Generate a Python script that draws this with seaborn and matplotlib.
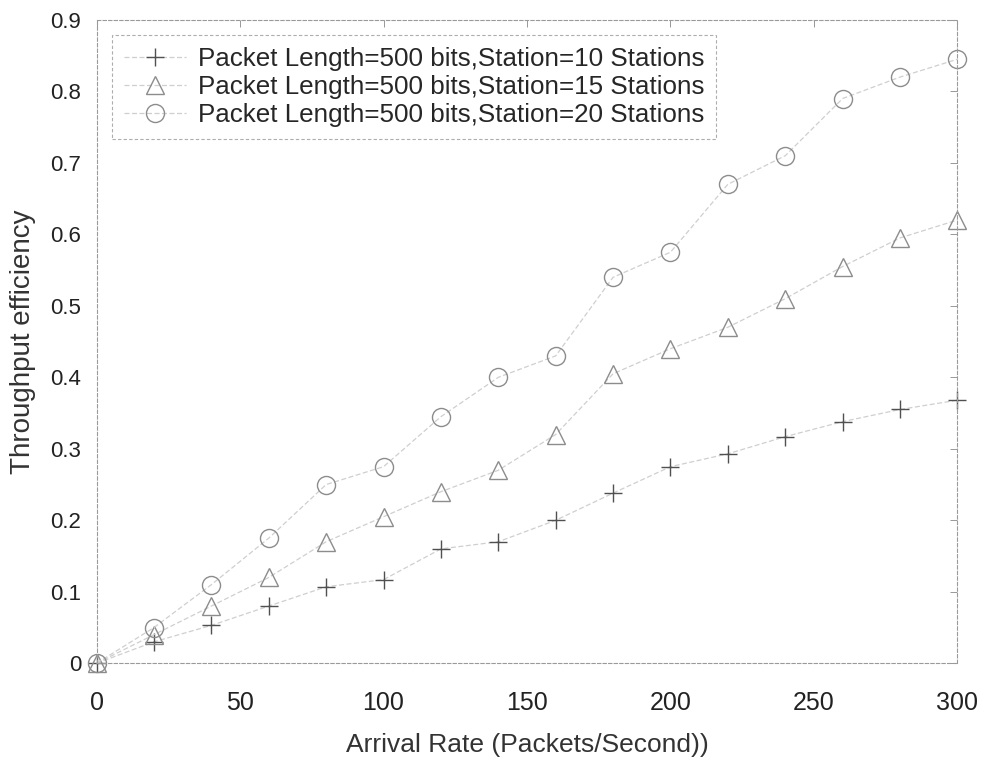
import numpy as np
import pandas as pd
import seaborn as sns
import matplotlib
matplotlib.use("Agg")
import matplotlib.pyplot as plt

# values
arrival = [0, 20, 40, 60, 80, 100, 120, 140, 160, 180, 200, 220, 240, 260, 280, 300]
st10 = [0.0, 0.030, 0.053, 0.080, 0.107, 0.117, 0.160, 0.170, 0.200, 0.238,
        0.275, 0.293, 0.317, 0.338, 0.355, 0.368]
st15 = [0.0, 0.040, 0.080, 0.120, 0.170, 0.205, 0.240, 0.270, 0.320, 0.405,
        0.440, 0.470, 0.510, 0.555, 0.595, 0.620]
st20 = [0.0, 0.050, 0.110, 0.175, 0.250, 0.275, 0.345, 0.400, 0.430, 0.540,
        0.575, 0.670, 0.710, 0.790, 0.820, 0.845]
labels = ['Packet Length=500 bits,Station=10 Stations',
          'Packet Length=500 bits,Station=15 Stations',
          'Packet Length=500 bits,Station=20 Stations']
markers = ['+', '^', 'o']
edge_cols = ['#505050', '#8c8c8c', '#8c8c8c']

sns.set_theme(style="white")
plt.rcParams['font.family'] = ['Liberation Sans', 'DejaVu Sans']

fig = plt.figure(figsize=(9.86, 7.65), dpi=100)
ax = fig.add_axes([0.098, 0.133, 0.873, 0.841])

for ys, lab, mk, ec in zip([st10, st15, st20], labels, markers, edge_cols):
    df = pd.DataFrame({'x': arrival, 'y': ys})
    sns.lineplot(data=df, x='x', y='y', ax=ax, label=lab, color='#cfcfcf',
                 lw=0.9, ls=(0, (4, 2)), marker=mk, markersize=13,
                 markerfacecolor='none', markeredgecolor=ec,
                 markeredgewidth=1.0, clip_on=False)

ax.set_xlim(0, 300)
ax.set_ylim(0, 0.9)
ax.set_xticks(np.arange(0, 301, 50))
ax.set_yticks(np.arange(0, 0.91, 0.1))
ax.set_yticklabels(['0'] + [f'{v:.1f}' for v in np.arange(0.1, 0.91, 0.1)])
ax.tick_params(direction='in', top=True, right=True, length=5, width=0.6,
               color='#888888', labelcolor='#222222')
ax.tick_params(axis='y', labelsize=16, pad=11)
ax.tick_params(axis='x', labelsize=18, pad=20)
for s in ax.spines.values():
    s.set_linestyle((0, (3, 2)))
    s.set_color('#9a9a9a')
    s.set_linewidth(0.8)

ax.set_xlabel('Arrival Rate (Packets/Second))', fontsize=19, color='#333333',
              labelpad=13)
ax.set_ylabel('Throughput efficiency', fontsize=20, color='#333333',
              labelpad=10)

leg = ax.legend(loc='upper left', fontsize=18.7, frameon=True, fancybox=False,
                borderaxespad=0.6, handlelength=2.4, labelspacing=0.15,
                borderpad=0.45, handletextpad=0.45)
leg.get_frame().set_edgecolor('#999999')
leg.get_frame().set_linestyle((0, (3, 2)))
leg.get_frame().set_linewidth(0.8)

fig.savefig('out.png', dpi=100)
